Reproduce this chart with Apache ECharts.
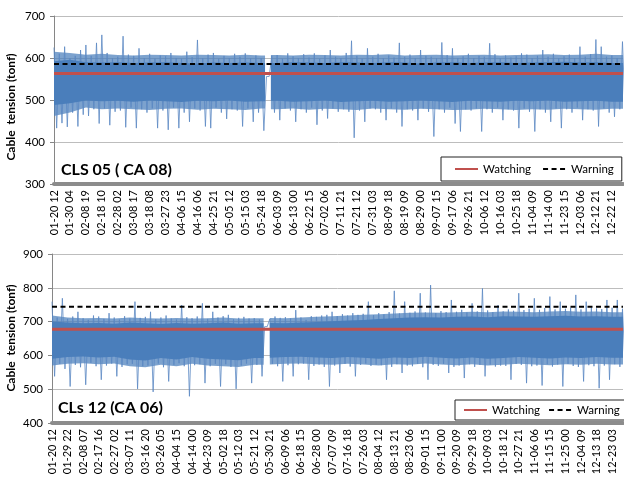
<!DOCTYPE html>
<html><head><meta charset="utf-8">
<script src="https://cdn.jsdelivr.net/npm/echarts@6/dist/echarts.min.js"></script>
<style>html,body{margin:0;padding:0;background:#fff}#c{width:624px;height:482px}</style>
</head><body><div id="c"></div>
<script>
// ---------- tick labels ----------
const labelsTop = ['01-20 12','01-30 04','02-08 19','02-18 10','02-28 02','03-08 17','03-18 08','03-27 23','04-06 15','04-16 06','04-25 21','05-05 12','05-15 03','05-24 18','06-03 09','06-13 00','06-22 15','07-02 06','07-11 21','07-21 12','07-31 03','08-09 18','08-19 09','08-29 00','09-07 15','09-17 06','09-26 21','10-06 12','10-16 03','10-25 18','11-04 09','11-14 00','11-23 15','12-03 06','12-12 21','12-22 12'];
const labelsBottom = ['01-20 12','01-29 22','02-08 07','02-17 16','02-27 02','03-07 11','03-16 20','03-26 05','04-04 15','04-14 00','04-23 09','05-02 18','05-12 03','05-21 12','05-30 21','06-09 06','06-18 15','06-28 00','07-07 09','07-16 18','07-26 03','08-04 12','08-13 21','08-23 06','09-01 15','09-11 00','09-20 09','09-29 18','10-09 03','10-18 12','10-27 21','11-06 06','11-15 15','11-25 00','12-04 09','12-13 18','12-23 03'];

// ---------- thresholds ----------
const watchTop = 563, warnTop = 586;
const watchBottom = 677, warnBottom = 744;

// ---------- x extents (in label intervals) and data gaps ----------
const xMaxTop = 35.7, xMaxBottom = 36.7;
const gapTop = [13.24, 13.61];
const gapBottom = [13.6, 14.0];

// ---------- CLS 05 (CA 08) ----------
// solid core band, one value per label interval
const coreHiTop = [592,596,590,589,590,588,589,590,588,587,589,588,589,588,588,590,589,588,590,589,588,590,589,587,589,590,588,589,590,588,589,590,591,589,590,588,589];
const coreLoTop = [488,492,499,497,498,496,499,497,495,498,497,499,496,497,498,496,497,499,495,497,498,496,497,499,497,495,498,497,496,498,497,499,496,497,498,496,497];
// dense fringe envelope, one value per label interval
const fringeHiTop = [615,612,608,610,607,606,608,607,606,608,607,606,608,606,607,606,608,607,606,608,607,609,606,607,608,606,607,608,606,607,608,609,607,608,610,607,608];
const fringeLoTop = [462,470,482,478,480,478,476,479,480,477,479,478,476,480,478,480,477,479,478,476,480,478,477,479,478,476,477,479,478,476,478,477,479,478,477,479,478];
// spikes: 3 highs and 3 lows per label interval
const spikeHiTop = [625,610,627, 600,605,619, 631,605,636, 655,612,600, 603,652,608, 605,623,600, 610,598,606, 604,612,600, 598,615,602, 643,600,608,
  612,598,605, 600,610,603, 611,599,606, 600,556,605, 607,598,611, 604,600,609, 601,611,598, 606,619,603, 600,612,641, 605,598,623,
  603,610,600, 606,601,636, 603,608,600, 619,605,603, 600,637,607, 623,600,604, 610,600,605, 603,635,609, 600,606,601, 604,611,608,
  600,605,619, 603,610,600, 604,608,600, 627,603,609, 644,627,603, 606,600,639];
const spikeLoTop = [433,445,436, 470,437,465, 462,478,444, 480,440,472, 475,435,482, 433,478,470, 480,433,475, 429,482,433, 470,448,480, 475,437,433,
  482,470,455, 478,475,437, 480,448,470, 427,556,470, 452,480,475, 448,478,470, 482,441,475, 456,480,472, 478,472,410, 475,448,480,
  478,470,452, 480,470,437, 478,475,452, 480,472,413, 478,470,482, 444,425,478, 475,480,425, 478,470,482, 452,478,475, 433,480,472,
  425,478,470, 448,480,433, 478,470,482, 452,478,475, 437,480,470, 460,478,472];

// ---------- CLs 12 (CA 06) ----------
const coreHiBottom = [700,697,695,696,694,697,695,693,696,694,695,697,694,695,696,695,697,699,701,703,705,708,710,712,713,712,714,715,713,716,715,714,716,717,715,716,714,715];
const coreLoBottom = [590,595,597,594,596,588,585,592,588,595,590,588,586,592,593,595,596,594,592,595,593,590,594,592,596,593,591,594,590,592,595,593,591,594,592,595,593,594];
const fringeHiBottom = [718,712,710,711,709,712,710,709,711,709,710,712,709,710,711,710,712,714,716,718,720,722,724,726,727,726,728,729,728,730,729,728,730,731,729,730,728,729];
const fringeLoBottom = [570,575,577,574,576,568,565,572,568,575,570,568,566,572,573,575,576,574,572,575,573,570,574,572,576,573,571,574,570,572,575,573,571,574,572,575,573,574];
const spikeHiBottom = [759,712,769, 708,715,729, 710,705,718, 715,708,725, 712,706,716, 709,759,711, 714,729,707, 712,718,709, 706,749,713, 710,715,754,
  708,729,712, 716,720,707, 711,714,709, 710,706,685, 708,715,711, 713,709,734, 712,705,716, 714,718,720, 729,716,722, 718,725,720,
  723,759,719, 725,721,728, 791,724,759, 726,730,784, 727,808,725, 731,728,764, 729,735,727, 754,730,798, 733,728,749, 730,736,732,
  784,734,738, 769,735,740, 774,736,759, 738,741,779, 736,759,742, 739,737,764, 741,764,738];
const spikeLoBottom = [538,575,560, 508,572,565, 513,578,568, 528,570,576, 538,566,574, 575,501,568, 570,492,576, 565,523,572, 577,568,479, 571,574,518,
  568,575,508, 574,566,501, 570,576,518, 572,538,685, 575,568,523, 571,538,574, 576,528,569, 573,566,508, 570,548,575, 567,538,572,
  576,569,573, 571,528,566, 574,548,570, 568,575,565, 528,572,569, 575,548,566, 570,533,574, 566,572,538, 573,567,570, 569,528,575,
  572,518,568, 570,511,574, 567,573,508, 575,569,566, 523,571,568, 503,570,528, 574,566,571];

// ---------- builders ----------
const BLUE = '#4a7ebb', RED = '#c0504d';
const FONT = 'Lato, "Open Sans", sans-serif';

function spikeData(hi, lo) {
  const d = [];
  for (let k = 0; k < hi.length; k++) {
    d.push([k / 3, hi[k]]);
    if (k < lo.length) d.push([k / 3 + 1 / 6, lo[k]]);
  }
  return d;
}

function bandSeries(hi, lo, gap, xMax, idx, fill, z) {
  return {
    type: 'custom', xAxisIndex: idx, yAxisIndex: idx, silent: true, z: z,
    data: [[0, lo[0]]], encode: { x: 0, y: 1 },
    renderItem: function (params, api) {
      const a = [], b = [];
      for (let i = 0; i < hi.length; i++) {
        if (i <= gap[0]) a.push([i, hi[i], lo[i]]);
        else if (i >= gap[1] && i <= xMax) b.push([i, hi[i], lo[i]]);
      }
      const i0 = Math.floor(gap[0]);
      a.push([gap[0], hi[i0], lo[i0]]);
      const i1 = Math.ceil(gap[1]);
      if (!b.length || b[0][0] !== gap[1]) b.unshift([gap[1], hi[i1], lo[i1]]);
      const iL = Math.floor(xMax);
      b.push([xMax, hi[iL], lo[iL]]);
      const children = [a, b].map(function (s) {
        const pts = s.map(p => api.coord([p[0], p[1]]))
          .concat(s.slice().reverse().map(p => api.coord([p[0], p[2]])));
        return { type: 'polygon', shape: { points: pts }, style: { fill: fill } };
      });
      return { type: 'group', children: children };
    }
  };
}

function levelSeries(name, v, xMax, idx, style) {
  return {
    name: name, type: 'line', xAxisIndex: idx, yAxisIndex: idx, symbol: 'none', silent: true,
    z: name === 'Warning' ? 6 : 5,
    data: [[0, v], [xMax, v]], lineStyle: style
  };
}

function xAxis(idx, labels, xMax) {
  return {
    type: 'value', gridIndex: idx, min: 0, max: xMax, interval: 1,
    axisLine: { show: true, lineStyle: { color: '#8c8c8c', width: 4 } },
    axisTick: { show: false }, splitLine: { show: false },
    axisLabel: {
      rotate: 90, margin: 6, fontFamily: FONT, fontSize: 11, color: '#000',
      showMinLabel: true, showMaxLabel: true,
      formatter: function (v) { return (Number.isInteger(v) && labels[v] !== undefined) ? labels[v] : ''; }
    }
  };
}

function yAxis(idx, min, max) {
  return {
    type: 'value', gridIndex: idx, min: min, max: max, interval: 100,
    axisLine: { show: true, lineStyle: { color: '#868686', width: 1 } },
    axisTick: { show: true, length: 4, lineStyle: { color: '#868686' } },
    splitLine: { show: true, lineStyle: { color: '#bdbdbd', width: 1 } },
    axisLabel: { margin: 9, fontFamily: FONT, fontSize: 11.5, color: '#000' }
  };
}

const legendCommon = {
  data: ['Watching', 'Warning'], orient: 'horizontal', selectedMode: false, width: 320,
  itemWidth: 23, itemHeight: 13, borderColor: '#222', borderWidth: 1, backgroundColor: '#fff',
  itemStyle: { opacity: 0 },
  textStyle: { fontFamily: FONT, fontSize: 11.5, color: '#000' }, z: 10
};

const FRINGE = 'rgba(74,126,187,0.72)';
const SPIKE = { color: '#5a88c3', width: 0.8 };

const chart = echarts.init(document.getElementById('c'), null, { renderer: 'canvas' });
chart.setOption({
  animation: false,
  backgroundColor: '#fff',
  grid: [
    { left: 54, top: 16, width: 569, height: 168, outerBoundsMode: 'none', containLabel: false },
    { left: 52, top: 254, width: 571, height: 169, outerBoundsMode: 'none', containLabel: false }
  ],
  xAxis: [xAxis(0, labelsTop, xMaxTop), xAxis(1, labelsBottom, xMaxBottom)],
  yAxis: [yAxis(0, 300, 700), yAxis(1, 400, 900)],
  title: [
    { text: 'CLS 05 ( CA 08)', left: 61, top: 162, padding: 0, textStyle: { fontFamily: FONT, fontWeight: 'bold', fontSize: 16, color: '#000' } },
    { text: 'CLs 12 (CA 06)', left: 58, top: 400, padding: 0, textStyle: { fontFamily: FONT, fontWeight: 'bold', fontSize: 16, color: '#000' } }
  ],
  legend: [
    Object.assign({}, legendCommon, { left: 441, top: 157, padding: [6, 8, 6, 13], itemGap: 11 }),
    Object.assign({}, legendCommon, { left: 455, top: 400, padding: [4, 5, 4, 8], itemGap: 8 })
  ],
  graphic: [
    { type: 'text', x: 11, y: 107, rotation: Math.PI / 2, style: { text: 'Cable  tension (tonf)', align: 'center', verticalAlign: 'middle', font: 'bold 12px ' + FONT, fill: '#000' } },
    { type: 'text', x: 11, y: 338, rotation: Math.PI / 2, style: { text: 'Cable  tension (tonf)', align: 'center', verticalAlign: 'middle', font: 'bold 12px ' + FONT, fill: '#000' } }
  ],
  series: [
    bandSeries(fringeHiTop, fringeLoTop, gapTop, xMaxTop, 0, FRINGE, 1),
    { type: 'line', xAxisIndex: 0, yAxisIndex: 0, symbol: 'none', silent: true, z: 2,
      data: spikeData(spikeHiTop, spikeLoTop), lineStyle: SPIKE },
    bandSeries(coreHiTop, coreLoTop, gapTop, xMaxTop, 0, BLUE, 3),
    levelSeries('Watching', watchTop, xMaxTop, 0, { color: RED, width: 3 }),
    levelSeries('Warning', warnTop, xMaxTop, 0, { color: '#000', width: 2, type: [5, 3.5] }),

    bandSeries(fringeHiBottom, fringeLoBottom, gapBottom, xMaxBottom, 1, FRINGE, 1),
    { type: 'line', xAxisIndex: 1, yAxisIndex: 1, symbol: 'none', silent: true, z: 2,
      data: spikeData(spikeHiBottom, spikeLoBottom), lineStyle: SPIKE },
    bandSeries(coreHiBottom, coreLoBottom, gapBottom, xMaxBottom, 1, BLUE, 3),
    levelSeries('Watching', watchBottom, xMaxBottom, 1, { color: RED, width: 3 }),
    levelSeries('Warning', warnBottom, xMaxBottom, 1, { color: '#000', width: 2, type: [5, 3.5] })
  ]
});
</script>
</body></html>
